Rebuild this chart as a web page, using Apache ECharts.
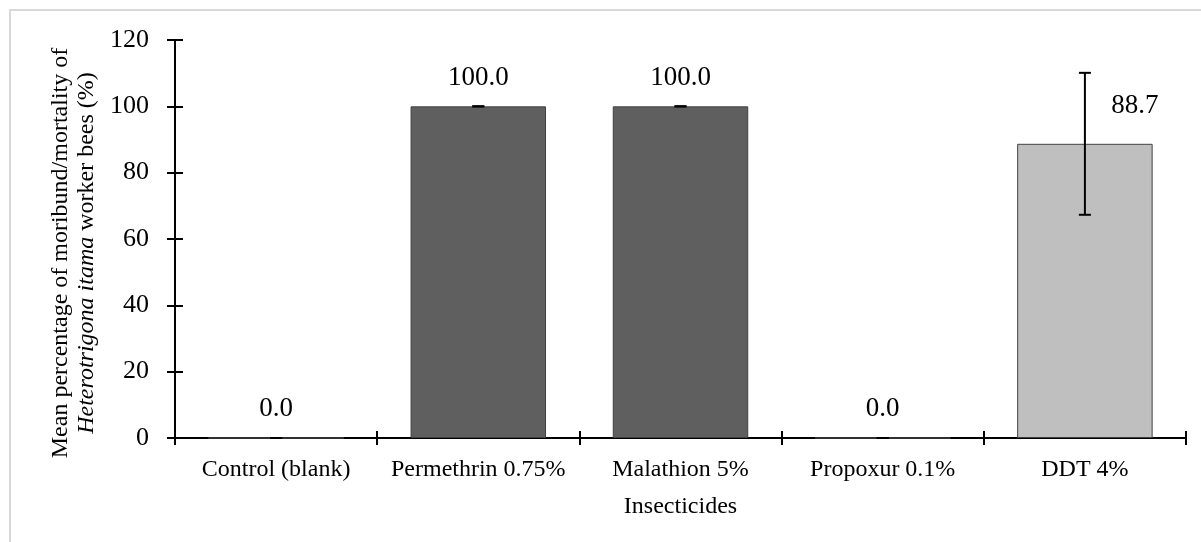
<!DOCTYPE html>
<html>
<head>
<meta charset="utf-8">
<script src="https://cdn.jsdelivr.net/npm/echarts@6/dist/echarts.min.js"></script>
<style>
  html, body { margin: 0; padding: 0; background: #fff; }
  #main { width: 1201px; height: 542px; }
</style>
</head>
<body>
<div id="main"></div>
<script>
// DATA
var categories = ['Control (blank)', 'Permethrin 0.75%', 'Malathion 5%', 'Propoxur 0.1%', 'DDT 4%'];
var meanValues = [0.0, 100.0, 100.0, 0.0, 88.7];
var errValues = [0, 0, 0, 0, 21.4];
var barColors = ['#5f5f5f', '#5f5f5f', '#5f5f5f', '#5f5f5f', '#bfbfbf'];
var yTicks = [0, 20, 40, 60, 80, 100, 120];

var FONT = '"Liberation Serif", "Times New Roman", serif';

var chart = echarts.init(document.getElementById('main'));

// bars
var barData = meanValues.map(function (v, i) {
  var item = { value: v, itemStyle: { color: barColors[i] } };
  if (i === 4) {
    item.label = { offset: [50, -9] };
  }
  return item;
});

// error bars (custom)
var errData = meanValues.map(function (v, i) {
  return [i, v - errValues[i], v + errValues[i]];
});

function renderErr(params, api) {
  var x = api.value(0);
  var lo = api.coord([x, api.value(1)]);
  var hi = api.coord([x, api.value(2)]);
  var hw = 6;
  var st = { stroke: '#000', lineWidth: 2 };
  return {
    type: 'group',
    children: [
      { type: 'line', shape: { x1: hi[0], y1: hi[1], x2: lo[0], y2: lo[1] }, style: st },
      { type: 'line', shape: { x1: hi[0] - hw, y1: hi[1], x2: hi[0] + hw, y2: hi[1] }, style: st },
      { type: 'line', shape: { x1: lo[0] - hw, y1: lo[1], x2: lo[0] + hw, y2: lo[1] }, style: st }
    ]
  };
}

var option = {
  animation: false,
  backgroundColor: '#fff',
  textStyle: { fontFamily: FONT, color: '#000' },
  graphic: [{
    type: 'rect',
    shape: { x: 10, y: 10, width: 1400, height: 700 },
    style: { fill: 'none', stroke: '#d9d9d9', lineWidth: 2 },
    silent: true
  }],
  grid: { left: 175, right: 15, top: 40, bottom: 104, containLabel: false },
  xAxis: [{
    type: 'category',
    data: categories,
    name: 'Insecticides',
    nameLocation: 'middle',
    nameGap: 57,
    nameTextStyle: { fontFamily: FONT, fontSize: 24, color: '#000' },
    axisLine: { lineStyle: { color: '#000', width: 2 } },
    axisTick: { show: true, length: 7, lineStyle: { color: '#000', width: 2 } },
    axisLabel: { fontFamily: FONT, fontSize: 24, color: '#000', margin: 20, interval: 0 }
  }, {
    type: 'category',
    data: categories,
    position: 'bottom',
    axisLine: { show: false },
    axisTick: { show: true, inside: true, length: 7, lineStyle: { color: '#000', width: 2 } },
    axisLabel: { show: false }
  }],
  yAxis: [{
    type: 'value',
    min: yTicks[0],
    max: yTicks[yTicks.length - 1],
    interval: 20,
    splitLine: { show: false },
    axisLine: { show: true, lineStyle: { color: '#000', width: 2 } },
    axisTick: { show: true, length: 8, lineStyle: { color: '#000', width: 2 } },
    axisLabel: { fontFamily: FONT, fontSize: 26, color: '#000', margin: 26 },
    name: '{a|Mean percentage of moribund/mortality of}\n{i|Heterotrigona itama}{a| worker bees (%)}',
    nameLocation: 'middle',
    nameRotate: 90,
    nameGap: 74,
    nameTextStyle: {
      padding: [0, 28, 0, 0],
      rich: {
        a: { fontFamily: FONT, fontSize: 24, color: '#000', lineHeight: 26 },
        i: { fontFamily: FONT, fontSize: 24, color: '#000', lineHeight: 26, fontStyle: 'italic' }
      }
    }
  }, {
    type: 'value',
    position: 'left',
    min: yTicks[0],
    max: yTicks[yTicks.length - 1],
    interval: 20,
    splitLine: { show: false },
    axisLine: { show: false },
    axisTick: { show: true, inside: true, length: 8, lineStyle: { color: '#000', width: 2 } },
    axisLabel: { show: false }
  }],
  series: [{
    type: 'bar',
    data: barData,
    barCategoryGap: '33%',
    itemStyle: { borderColor: '#404040', borderWidth: 1 },
    label: {
      show: true,
      position: 'top',
      distance: 15,
      fontFamily: FONT,
      fontSize: 27,
      color: '#000',
      formatter: function (p) { return p.value.toFixed(1); }
    },
    z: 2
  }, {
    type: 'custom',
    data: errData,
    renderItem: renderErr,
    z: 3
  }]
};

chart.setOption(option);
</script>
</body>
</html>
